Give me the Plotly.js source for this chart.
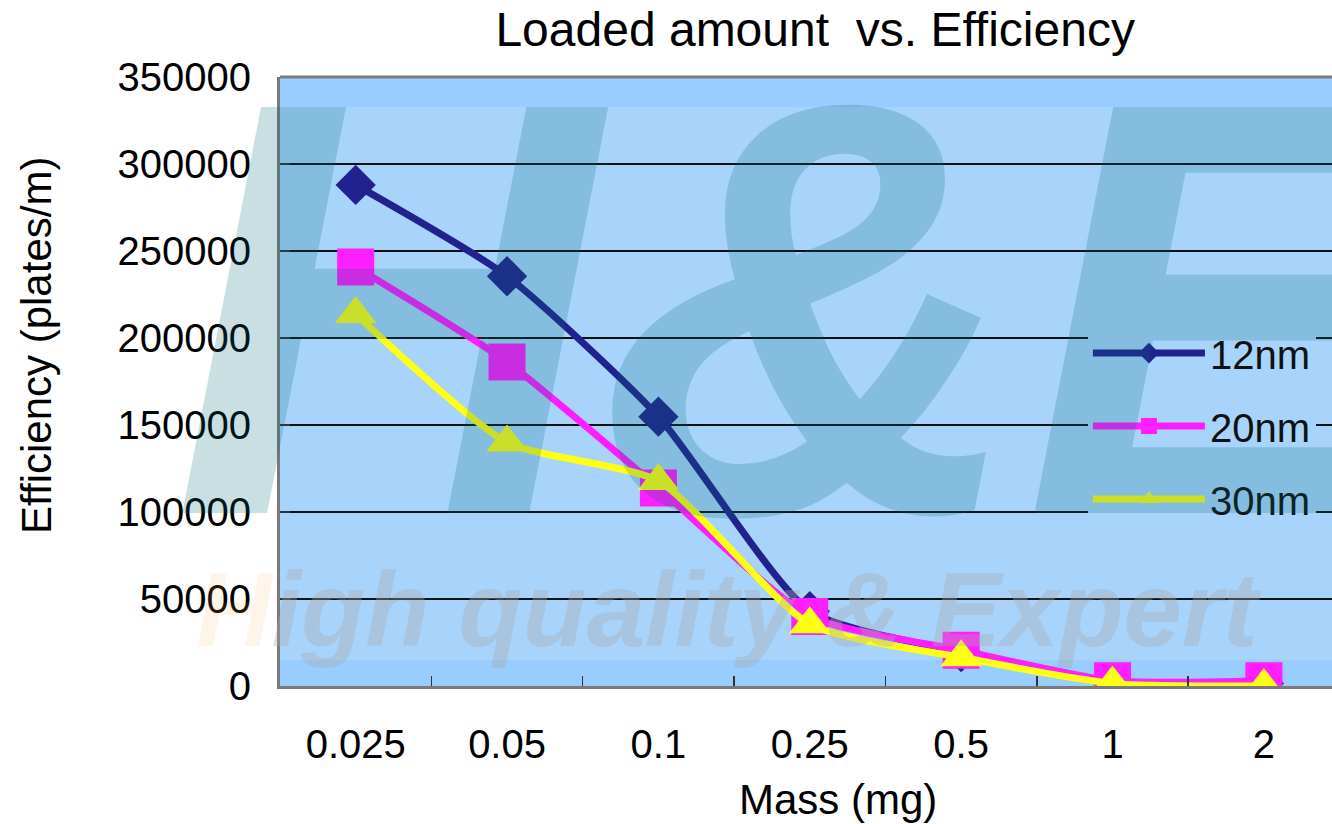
<!DOCTYPE html>
<html>
<head>
<meta charset="utf-8">
<script src="https://cdn.plot.ly/plotly-3.0.1.min.js"></script>
<style>
html,body{margin:0;padding:0;background:#fff;}
#chart{width:1332px;height:824px;}
</style>
</head>
<body>
<div id="chart"></div>
<script>
// ---- data ----
var categories = ['0.025', '0.05', '0.1', '0.25', '0.5', '1', '2'];
var nm12 = [288000, 235500, 154800, 43000, 19500, 1500, 1500];
var nm20 = [240800, 186200, 113800, 40000, 20500, 3000, 3000];
var nm30 = [213800, 140000, 117800, 35500, 16500, 1500, 0];
var seriesNames = ['12nm', '20nm', '30nm'];
var yTicks = [0, 50000, 100000, 150000, 200000, 250000, 300000, 350000];
var titleText = 'Loaded amount  vs. Efficiency';
var xTitle = 'Mass (mg)';
var yTitle = 'Efficiency (plates/m)';

var FONT = '"Liberation Sans", Arial, sans-serif';

function mk(name, y, color, symbol, size) {
  return {
    type: 'scatter', mode: 'lines+markers', name: name, legendgroup: name,
    x: categories, y: y,
    line: {color: color, width: 7, shape: 'spline', smoothing: 0.6},
    marker: {symbol: symbol, size: size, color: color, line: {width: 0}}
  };
}

var data = [
  mk(seriesNames[0], nm12, '#22228e', 'diamond', 31),
  mk(seriesNames[1], nm20, '#ff1eff', 'square', 37),
  mk(seriesNames[2], nm30, '#ffff14', 'triangle-up', 36)
];

var layout = {
  width: 1332, height: 824,
  margin: {l: 280, r: 0, t: 77, b: 138},
  paper_bgcolor: '#ffffff',
  plot_bgcolor: '#a8d4fc',
  font: {family: FONT, size: 40, color: '#000'},
  title: {
    text: titleText,
    font: {family: FONT, size: 48, color: '#000'},
    xref: 'container', x: 0.612, xanchor: 'center',
    yref: 'container', y: 0.985, yanchor: 'top'
  },
  xaxis: {
    type: 'category', range: [-0.5, 6.45],
    showgrid: false, zeroline: false,
    showline: true, linecolor: '#7a7a7a', linewidth: 3,
    ticks: 'inside', tickson: 'boundaries', ticklen: 10, tickwidth: 1.5, tickcolor: '#333',
    tickfont: {family: FONT, size: 40, color: '#000'},
    ticklabelstandoff: 21,
    fixedrange: true
  },
  yaxis: {
    range: [0, 350000], tickvals: yTicks, ticktext: yTicks.map(String),
    showgrid: true, gridcolor: '#111', gridwidth: 1.5,
    zeroline: false,
    showline: true, linecolor: '#7a7a7a', linewidth: 3,
    ticks: 'inside', ticklen: 10, tickwidth: 1.5, tickcolor: '#333',
    tickfont: {family: FONT, size: 40, color: '#000'},
    ticklabelstandoff: 18,
    fixedrange: true
  },
  legend: {
    x: 0.768, xanchor: 'left', y: 0.6, yanchor: 'top',
    bgcolor: '#a8d4fc', borderwidth: 0,
    font: {family: FONT, size: 40, color: '#111'},
    itemwidth: 112, tracegroupgap: 18
  },
  showlegend: true,
  shapes: [
    {type: 'rect', xref: 'paper', yref: 'paper', x0: 0, x1: 1, y0: 0.9507, y1: 1,
     fillcolor: '#99ccff', line: {width: 0}, layer: 'below'},
    {type: 'rect', xref: 'paper', yref: 'paper', x0: 0, x1: 1, y0: 0, y1: 0.0427,
     fillcolor: '#99ccff', line: {width: 0}, layer: 'below'},
    {type: 'line', xref: 'paper', yref: 'paper', x0: 0, x1: 1, y0: 1, y1: 1,
     line: {color: '#7a7a7a', width: 3}}
  ],
  annotations: [
    {text: '<b><i>H&amp;E</i></b>', xref: 'paper', yref: 'paper',
     x: -0.105, xanchor: 'left', y: 0.62, yanchor: 'middle', showarrow: false,
     font: {family: FONT, size: 590, color: 'rgba(0,102,118,0.21)'}},
    {text: '<b><i><span style="color:rgba(250,170,90,0.35)">H</span>igh quality &amp; Expert</i></b>',
     xref: 'paper', yref: 'paper',
     x: -0.082, xanchor: 'left', y: 0.125, yanchor: 'middle', showarrow: false,
     font: {family: FONT, size: 105, color: 'rgba(170,170,170,0.36)'}},
    {text: xTitle, xref: 'paper', yref: 'paper', x: 0.53, xanchor: 'center',
     y: -0.187, yanchor: 'middle', showarrow: false,
     font: {family: FONT, size: 42, color: '#000'}},
    {text: yTitle, xref: 'paper', yref: 'paper', x: -0.231, xanchor: 'center',
     y: 0.56, yanchor: 'middle', showarrow: false, textangle: -90,
     font: {family: FONT, size: 42, color: '#000'}}
  ]
};

Plotly.newPlot('chart', data, layout, {displayModeBar: false, staticPlot: true});
</script>
</body>
</html>
